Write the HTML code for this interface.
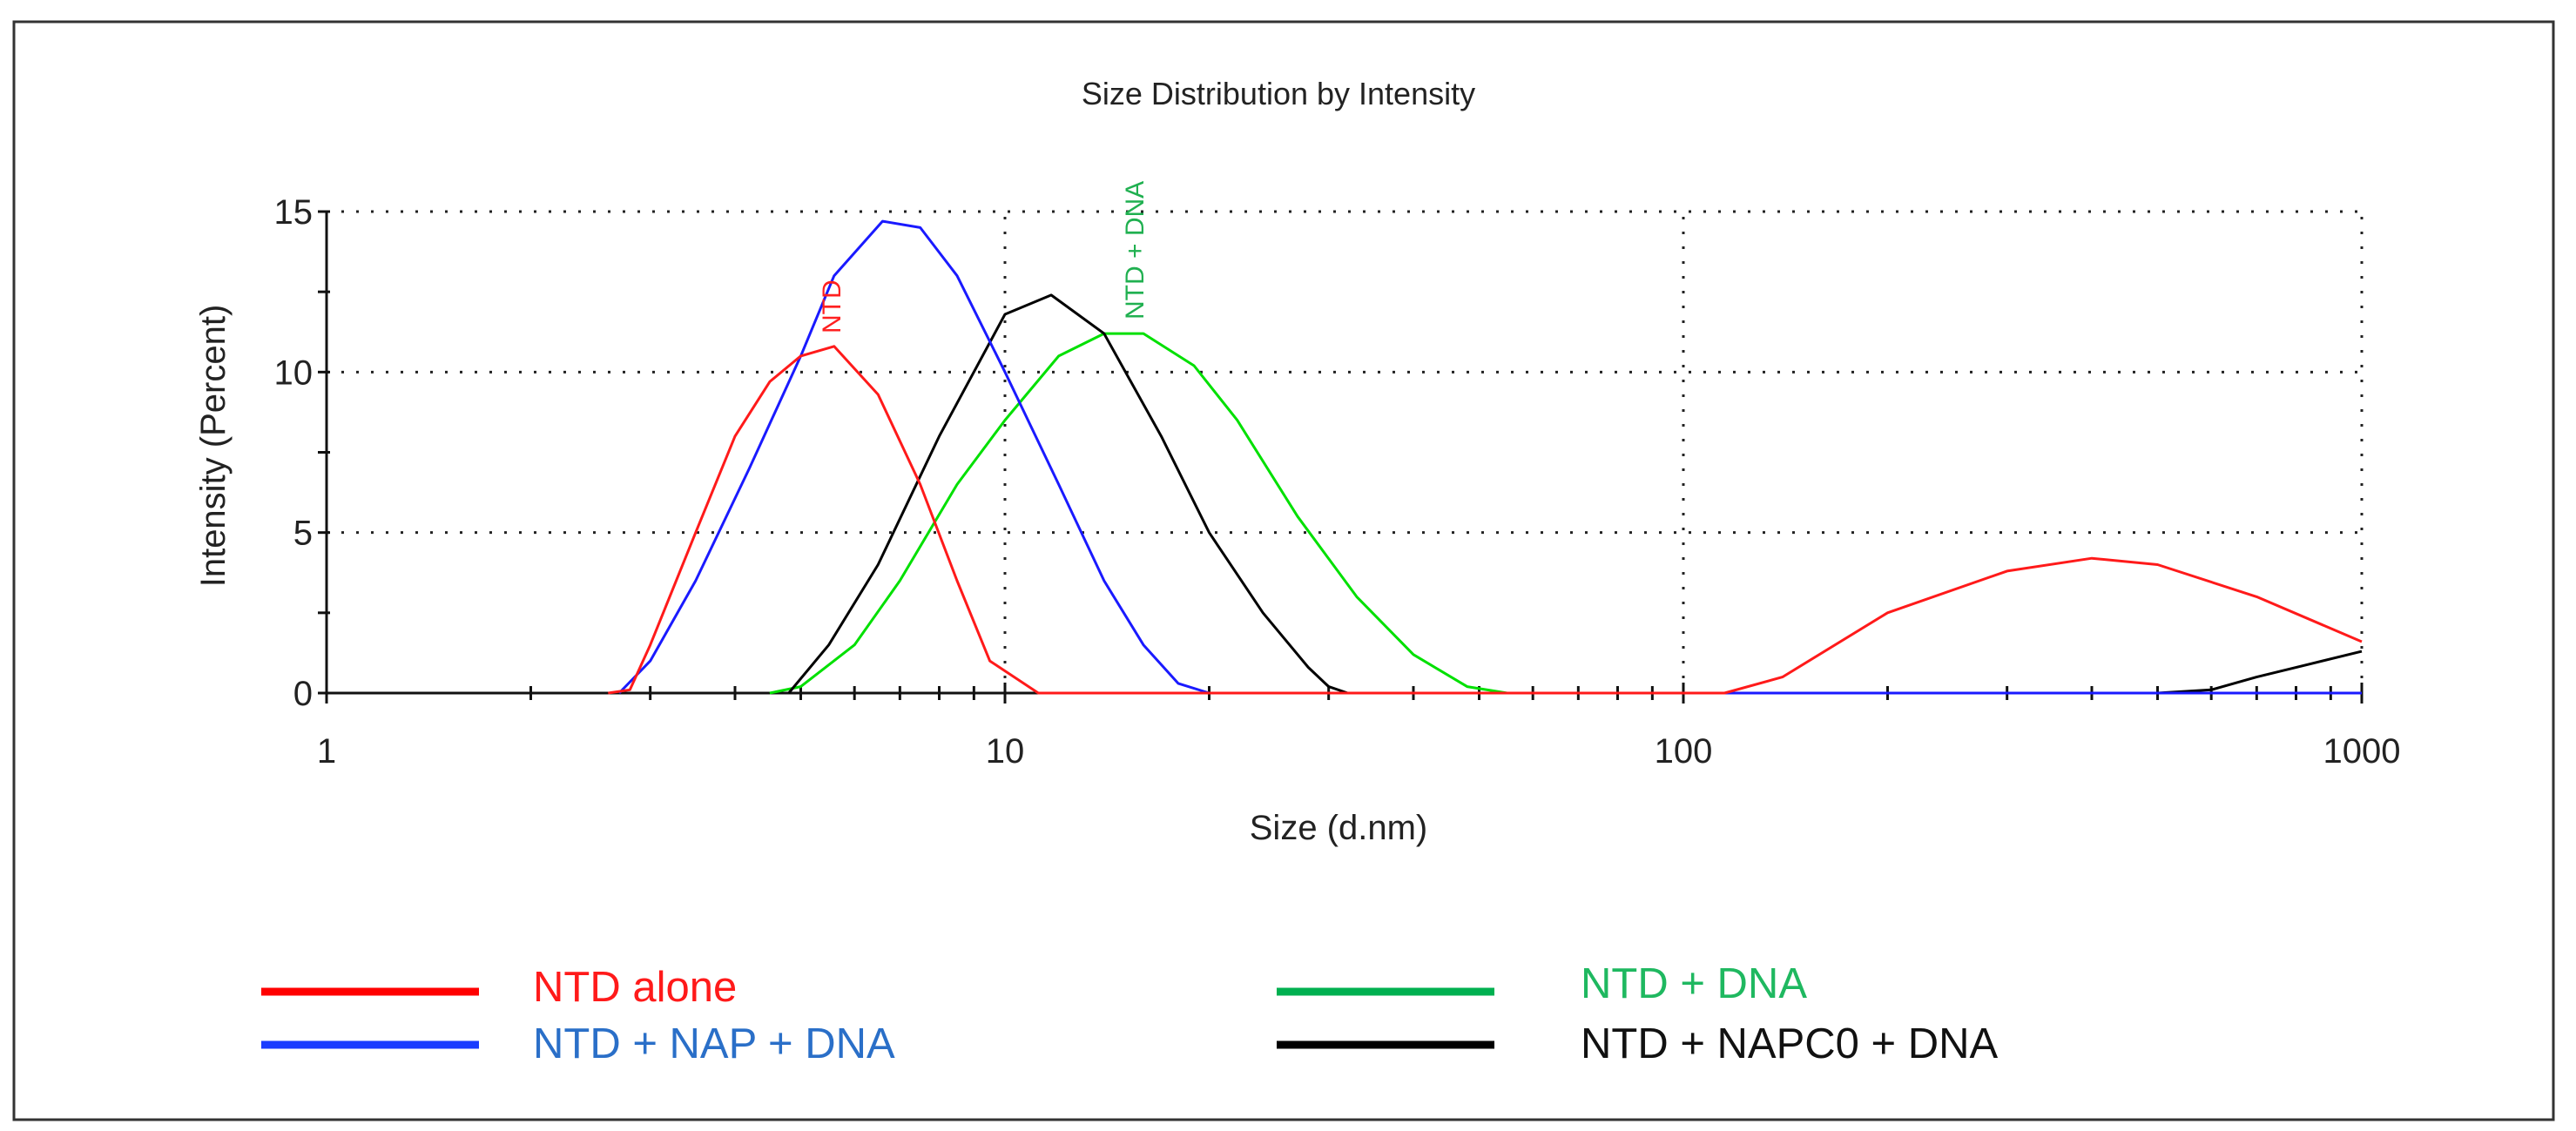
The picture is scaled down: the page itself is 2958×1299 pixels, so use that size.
<!DOCTYPE html>
<html><head><meta charset="utf-8"><style>
html,body{margin:0;padding:0;background:#fff;}
svg{display:block;font-family:"Liberation Sans",Arial,sans-serif;}
</style></head><body>
<svg id="chart" width="2958" height="1299" viewBox="0 0 2958 1299" xmlns="http://www.w3.org/2000/svg">
<rect x="16" y="25" width="2916" height="1261" fill="#fff" stroke="#333" stroke-width="3"/>
<text x="1468" y="120" font-size="36" text-anchor="middle" fill="#222">Size Distribution by Intensity</text>
<g id="grid"></g>
<g id="axes"></g>
<g id="series"></g>
<text transform="translate(258,512) rotate(-90)" font-size="40" text-anchor="middle" fill="#222">Intensity (Percent)</text>
<text x="1537" y="964" font-size="40" text-anchor="middle" fill="#222">Size (d.nm)</text>
<text transform="translate(965,383) rotate(-90)" font-size="30" fill="#ff2020">NTD</text>
<text transform="translate(1313,367) rotate(-90)" font-size="30" fill="#20b050">NTD + DNA</text>
<g font-size="49" font-family="'Liberation Sans',Arial,sans-serif">
<line x1="300" y1="1139" x2="550" y2="1139" stroke="#ff0000" stroke-width="9"/>
<text x="612" y="1150" fill="#ff1a1a">NTD alone</text>
<line x1="300" y1="1200" x2="550" y2="1200" stroke="#1a3cff" stroke-width="9"/>
<text x="612" y="1215" fill="#2a6fc8">NTD + NAP + DNA</text>
<line x1="1466" y1="1139" x2="1716" y2="1139" stroke="#00b050" stroke-width="9"/>
<text x="1815" y="1146" fill="#1fb860">NTD + DNA</text>
<line x1="1466" y1="1200" x2="1716" y2="1200" stroke="#000" stroke-width="9"/>
<text x="1815" y="1215" fill="#111">NTD + NAPC0 + DNA</text>
</g>
</svg>
<script>
const xTicks = [1, 10, 100, 1000];
const xTickLabels = ["1", "10", "100", "1000"];
const yTicks = [0, 5, 10, 15];
const yTickLabels = ["0", "5", "10", "15"];
const redSizes = [2.6, 2.8, 3.0, 3.5, 4.0, 4.5, 5.0, 5.6, 6.5, 7.5, 8.5, 9.5, 11.2, 115, 140, 200, 300, 400, 500, 700, 1000];
const redValues = [0, 0.1, 1.5, 5, 8, 9.7, 10.5, 10.8, 9.3, 6.5, 3.5, 1.0, 0, 0, 0.5, 2.5, 3.8, 4.2, 4.0, 3.0, 1.6];
const blueSizes = [2.7, 3.0, 3.5, 4.2, 5.0, 5.6, 6.6, 7.5, 8.5, 10, 12, 14, 16, 18, 20, 1000];
const blueValues = [0, 1, 3.5, 7, 10.5, 13, 14.7, 14.5, 13.0, 10, 6.5, 3.5, 1.5, 0.3, 0, 0];
const blackSizes = [4.8, 5.5, 6.5, 8, 10, 11.7, 14, 17, 20, 24, 28, 30, 32, 500, 600, 700, 1000];
const blackValues = [0, 1.5, 4, 8, 11.8, 12.4, 11.2, 8, 5, 2.5, 0.8, 0.2, 0, 0, 0.1, 0.5, 1.3];
const greenSizes = [4.5, 5.0, 6, 7, 8.5, 10, 12, 14, 16, 19, 22, 27, 33, 40, 48, 55];
const greenValues = [0, 0.2, 1.5, 3.5, 6.5, 8.5, 10.5, 11.2, 11.2, 10.2, 8.5, 5.5, 3, 1.2, 0.2, 0];

const NS = "http://www.w3.org/2000/svg";
const X0 = 375, DEC = 779, Y0 = 796, YS = (796 - 243) / 15;
const sx = v => X0 + Math.log10(v) * DEC;
const sy = v => Y0 - v * YS;
function mk(tag, attrs, parent) {
  const e = document.createElementNS(NS, tag);
  for (const k in attrs) e.setAttribute(k, attrs[k]);
  parent.appendChild(e);
  return e;
}
const grid = document.getElementById('grid');
const axes = document.getElementById('axes');
const series = document.getElementById('series');
const xMax = sx(1000), yTop = sy(15);
yTicks.slice(1).forEach(v => {
  const l = mk('line', {x1: X0, y1: sy(v), x2: xMax, y2: sy(v), stroke: '#222', 'stroke-width': 3, 'stroke-dasharray': '3 14'}, grid);
  
  
});
xTicks.slice(1).forEach(v => {
  const l = mk('line', {x1: sx(v), y1: Y0, x2: sx(v), y2: yTop, stroke: '#222', 'stroke-width': 3, 'stroke-dasharray': '3 14'}, grid);
  
  
});
const ya = mk('line', {x1: X0, y1: Y0, x2: X0, y2: yTop, stroke: '#111', 'stroke-width': 3}, axes);


const xa = mk('line', {x1: X0, y1: Y0, x2: xMax, y2: Y0, stroke: '#111', 'stroke-width': 3}, axes);


for (let v = 0; v <= 15; v += 2.5) {
  const t = mk('line', {x1: X0 - 10, y1: sy(v), x2: X0 + 4, y2: sy(v), stroke: '#111', 'stroke-width': 3}, axes);
  
  
}
yTicks.forEach((v, i) => {
  const t = mk('text', {x: X0 - 16, y: sy(v) + 14, 'font-size': 40, 'text-anchor': 'end', fill: '#222'}, axes);
  t.textContent = yTickLabels[i];
  
  
});
for (let d = 1; d < 1000; d *= 10) {
  for (let m = 1; m <= 10; m++) {
    const v = d * m;
    const major = (m === 1 || m === 10);
    const t = mk('line', {x1: sx(v), y1: Y0 - (major ? 12 : 8), x2: sx(v), y2: Y0 + (major ? 12 : 8), stroke: '#111', 'stroke-width': 3}, axes);
    
    
  }
}
xTicks.forEach((v, i) => {
  const t = mk('text', {x: sx(v), y: Y0 + 80, 'font-size': 40, 'text-anchor': 'middle', fill: '#222'}, axes);
  t.textContent = xTickLabels[i];
  
  
});
function drawSeries(sizes, vals, color, name) {
  const d = sizes.map((s, i) => (i ? 'L' : 'M') + sx(s).toFixed(1) + ',' + sy(vals[i]).toFixed(1)).join(' ');
  const p = mk('path', {d: d, fill: 'none', stroke: color, 'stroke-width': 3, 'stroke-linejoin': 'round'}, series);
  
  
}
drawSeries(greenSizes, greenValues, '#00e000', 'series-ntd-dna');
drawSeries(blackSizes, blackValues, '#000000', 'series-ntd-napc0-dna');
drawSeries(blueSizes, blueValues, '#1a1aff', 'series-ntd-nap-dna');
drawSeries(redSizes, redValues, '#ff1a1a', 'series-ntd-alone');
</script>
</body></html>
